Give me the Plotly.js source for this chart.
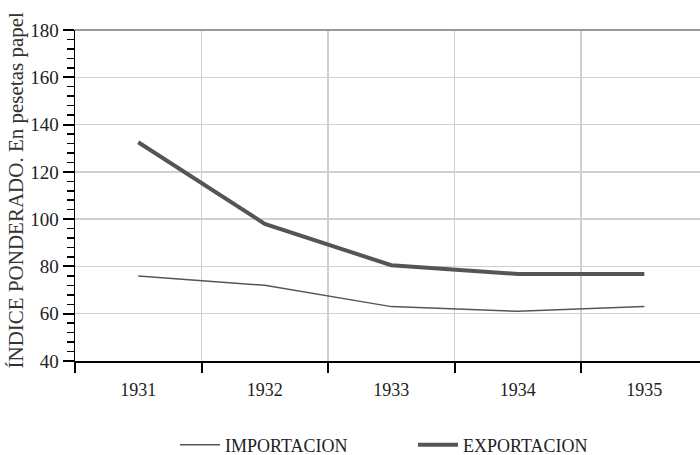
<!DOCTYPE html>
<html><head><meta charset="utf-8">
<script src="https://cdn.plot.ly/plotly-3.0.1.min.js"></script>
<style>body{margin:0;padding:0;background:#fff}#chart{width:700px;height:455px}</style>
</head><body><div id="chart"></div>
<script>
const years = ['1931','1932','1933','1934','1935'];
const importacion = [76, 72, 63, 61, 63];
const exportacion = [132.5, 98, 80.5, 76.8, 76.8];
const seriesNames = ['IMPORTACION', 'EXPORTACION'];
const yTitle = 'ÍNDICE PONDERADO. En pesetas papel';

const fam = 'Liberation Serif';
const font = {family: fam, color: '#222', size: 18};

const traces = [
  {x: years, y: importacion, name: seriesNames[0], type: 'scatter', mode: 'lines',
   line: {color: '#555', width: 1.5}},
  {x: years, y: exportacion, name: seriesNames[1], type: 'scatter', mode: 'lines',
   line: {color: '#555', width: 4}}
];

const layout = {
  width: 700, height: 455,
  margin: {l: 75, r: 0, t: 30, b: 94},
  paper_bgcolor: '#fff', plot_bgcolor: '#fff',
  font: font,
  showlegend: true,
  legend: {orientation: 'h', x: 0.25, xanchor: 'left', xref: 'container', y: 0.022, yref: 'container', yanchor: 'middle',
           font: {family: fam, size: 18, color: '#222'}, entrywidth: 183, itemwidth: 40},
  xaxis: {
    type: 'category', range: [-0.5, 4.44], tickson: 'boundaries',
    showgrid: true, gridcolor: '#d0d0d0', gridwidth: 1.5,
    showline: true, linecolor: '#000', linewidth: 1.5,
    ticks: 'outside', ticklen: 10, tickwidth: 2, tickcolor: '#000',
    ticklabelstandoff: 12, tickfont: {family: fam, size: 18, color: '#222'}, zeroline: false, fixedrange: true
  },
  yaxis: {
    range: [40, 180], dtick: 20, tick0: 40,
    showgrid: true, gridcolor: '#d0d0d0', gridwidth: 1.5,
    showline: true, linecolor: '#000', linewidth: 1.5,
    ticks: 'outside', ticklen: 11, tickwidth: 2, tickcolor: '#000',
    minor: {dtick: 4, ticks: 'outside', ticklen: 7, tickwidth: 1.5, tickcolor: '#000', showgrid: false},
    tickfont: {family: fam, size: 19, color: '#222'}, zeroline: false
  },
  annotations: [
    {text: yTitle, xref: 'paper', yref: 'paper', x: -0.095, y: 0.517, xanchor: 'center', yanchor: 'middle',
     textangle: -90, showarrow: false, font: {family: fam, size: 21, color: '#333'}}
  ],
  shapes: [
    {type: 'line', xref: 'paper', yref: 'paper', x0: 0, x1: 1, y0: 1, y1: 1, line: {color: '#9a9a9a', width: 2}}
  ]
};

Plotly.newPlot('chart', traces, layout, {displayModeBar: false, staticPlot: true});
</script></body></html>
